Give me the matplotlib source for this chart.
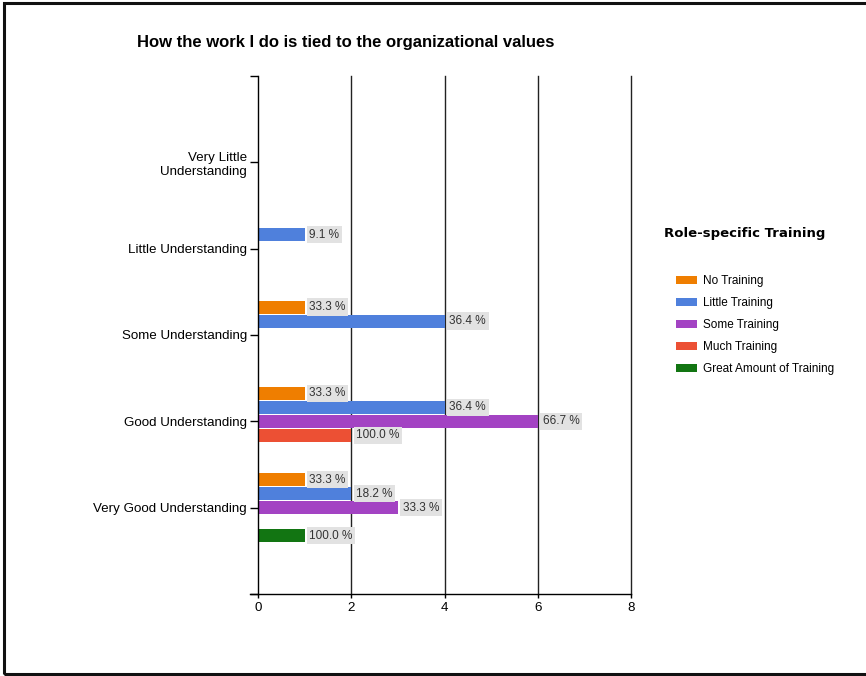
import numpy as np
import matplotlib
matplotlib.use("Agg")
import matplotlib.pyplot as plt
from matplotlib.patches import Rectangle

plt.rcParams['font.family'] = ['Liberation Sans', 'DejaVu Sans']

# understanding levels, top to bottom
categories = ['Very Little\nUnderstanding', 'Little Understanding', 'Some Understanding',
              'Good Understanding', 'Very Good Understanding']
series = ['No Training', 'Little Training', 'Some Training', 'Much Training',
          'Great Amount of Training']
colors = ['#EF7E00', '#4F80DC', '#A343C3', '#EC5034', '#127512']

# counts per category, one list per training group
no_training = [0, 0, 1, 1, 1]
little_training = [0, 1, 4, 4, 2]
some_training = [0, 0, 0, 6, 3]
much_training = [0, 0, 0, 2, 0]
great_training = [0, 0, 0, 0, 1]

# column percentages shown on the bars
no_pct = [0, 0, 33.3, 33.3, 33.3]
little_pct = [0, 9.1, 36.4, 36.4, 18.2]
some_pct = [0, 0, 0, 66.7, 33.3]
much_pct = [0, 0, 0, 100.0, 0]
great_pct = [0, 0, 0, 0, 100.0]

counts = [no_training, little_training, some_training, much_training, great_training]
pcts = [no_pct, little_pct, some_pct, much_pct, great_pct]

fig = plt.figure(figsize=(8.66, 6.76), dpi=100)
ax = fig.add_axes([258 / 866, 82 / 676, 373 / 866, 518 / 676])

ypos = np.arange(1, len(categories) + 1)
bar_h = 0.162
for i, (vals, pc) in enumerate(zip(counts, pcts)):
    y = ypos + (i - 2) * bar_h
    vals = np.array(vals, dtype=float)
    keep = vals > 0
    ax.barh(y[keep], vals[keep], height=bar_h * 0.93, color=colors[i], edgecolor='none',
            label=series[i], zorder=3)
    for yy, v, p in zip(y[keep], vals[keep], np.array(pc)[keep]):
        ax.annotate(f'{p:.1f} %', (v, yy), xytext=(3.5, 0), textcoords='offset points',
                    ha='left', va='center', fontsize=8.5, color='#333333', zorder=4,
                    bbox=dict(boxstyle='square,pad=0.22', facecolor='#E2E2E2',
                              edgecolor='none'))

ax.set_xlim(0, 8)
ax.set_ylim(6, 0)
ax.set_xticks([0, 2, 4, 6, 8])
ax.set_yticks(range(0, 7))
ax.set_yticklabels([''] + categories + [''])
ax.tick_params(axis='y', length=6, width=1, pad=2, labelsize=9.6, color='black')
ax.tick_params(axis='x', length=3, width=1, pad=3, labelsize=9.6, color='black')
for lbl in ax.get_yticklabels():
    lbl.set_multialignment('right')

for gx in [2, 4, 6, 8]:
    ax.axvline(gx, color='#222222', linewidth=1, zorder=1, clip_on=False)
ax.spines['top'].set_visible(False)
ax.spines['right'].set_visible(False)
for s in ['left', 'bottom']:
    ax.spines[s].set_linewidth(1)
    ax.spines[s].set_zorder(5)
ax.spines['bottom'].set_bounds(-0.17, 8)
ax.spines['bottom'].set_clip_on(False)

fig.text(346 / 866, 1 - 43 / 676, 'How the work I do is tied to the organizational values',
         ha='center', va='center', fontsize=12, fontweight='bold')

fig.text(664 / 866, 1 - 234 / 676, 'Role-specific Training', ha='left', va='center',
         fontsize=9.5, fontweight='bold', family='DejaVu Sans')
fig.legend(loc='upper left', bbox_to_anchor=(676 / 866, 1 - 275 / 676), frameon=False,
           fontsize=8.5, handlelength=1.8, handleheight=0.6, handletextpad=0.5,
           labelspacing=0.85, borderpad=0, borderaxespad=0)

# outer frame
fig.patches.append(Rectangle((3.5 / 866, 2.5 / 676), 1.2, 671 / 676, transform=fig.transFigure,
                             fill=False, edgecolor='#111111', linewidth=2.2))

fig.savefig('out.png', dpi=100)
